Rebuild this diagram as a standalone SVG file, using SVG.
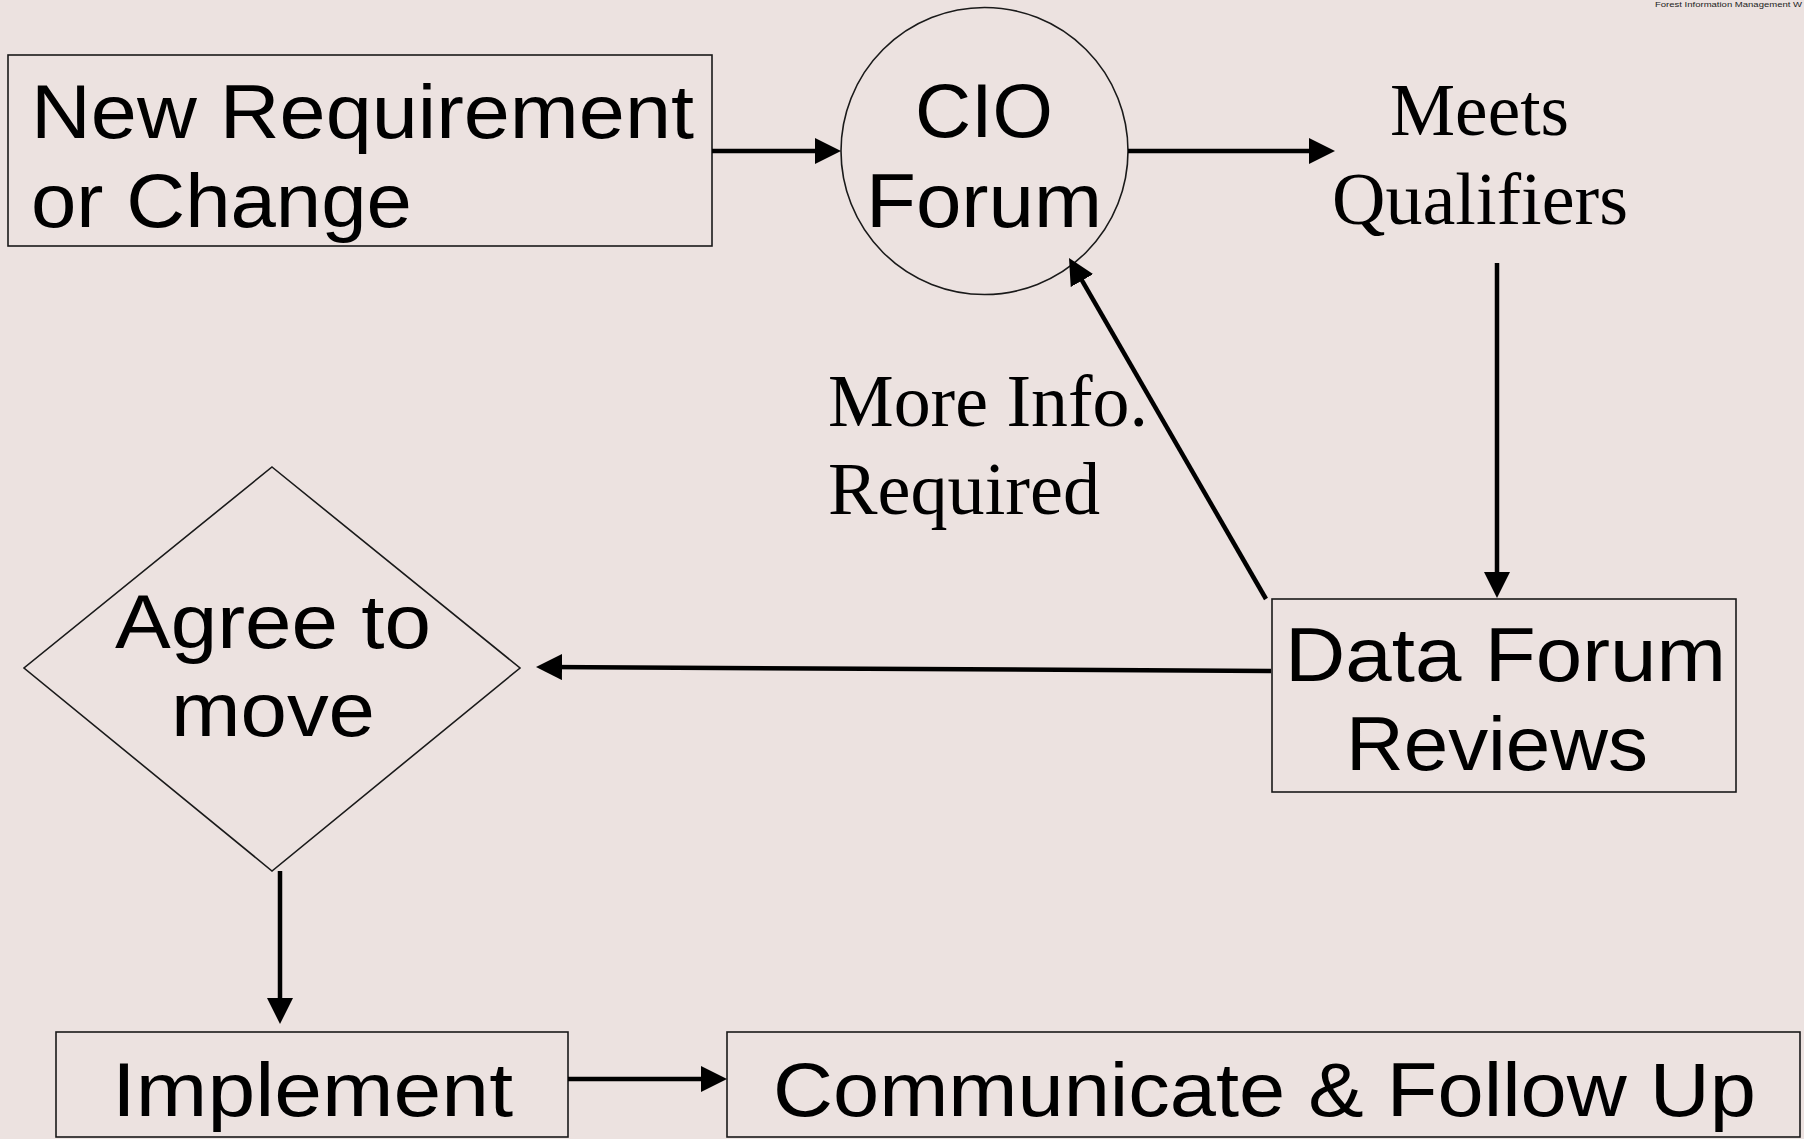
<svg xmlns="http://www.w3.org/2000/svg" width="1804" height="1139" viewBox="0 0 1804 1139">
<style>
.bg{fill:#ECE2E0}
.shape{fill:#ECE2E0;stroke:#1a1a1a;stroke-width:1.6}
.sans{font-family:"Liberation Sans",Arial,sans-serif;font-size:76px;fill:#000}
.serif{font-family:"Liberation Serif","Times New Roman",serif;font-size:74px;fill:#000}
.tiny{font-family:"Liberation Sans",Arial,sans-serif;font-size:8px;fill:#222}
.conn{stroke:#000;stroke-width:4.5;fill:none;marker-end:url(#ah)}
</style>
<defs>
<marker id="ah" markerUnits="userSpaceOnUse" markerWidth="26" markerHeight="26" refX="16" refY="13" orient="auto">
<path d="M0,0 L26,13 L0,26 z" fill="#000"/>
</marker>
</defs>
<rect class="bg" x="0" y="0" width="1804" height="1139"/>
<text class="tiny" x="1655" y="7" textLength="147" lengthAdjust="spacingAndGlyphs">Forest Information Management W</text>

<g id="new-requirement">
<rect class="shape" x="8" y="55" width="704" height="191"/>
<text class="sans" x="31" y="138" textLength="663" lengthAdjust="spacingAndGlyphs">New Requirement</text>
<text class="sans" x="31" y="227" textLength="381" lengthAdjust="spacingAndGlyphs">or Change</text>
</g>

<g id="cio-forum">
<circle class="shape" cx="984.5" cy="151" r="143.5"/>
<text class="sans" x="915" y="137" textLength="138" lengthAdjust="spacingAndGlyphs">CIO</text>
<text class="sans" x="866" y="227" textLength="236" lengthAdjust="spacingAndGlyphs">Forum</text>
</g>

<g id="meets-qualifiers">
<text class="serif" x="1390" y="135" textLength="179" lengthAdjust="spacingAndGlyphs">Meets</text>
<text class="serif" x="1332" y="224" textLength="296" lengthAdjust="spacingAndGlyphs">Qualifiers</text>
</g>

<g id="more-info-label">
<text class="serif" x="828" y="426" textLength="320" lengthAdjust="spacingAndGlyphs">More Info.</text>
<text class="serif" x="828" y="514" textLength="272" lengthAdjust="spacingAndGlyphs">Required</text>
</g>

<g id="data-forum-reviews">
<rect class="shape" x="1272" y="599" width="464" height="193"/>
<text class="sans" x="1285" y="681" textLength="441" lengthAdjust="spacingAndGlyphs">Data Forum</text>
<text class="sans" x="1346" y="770" textLength="302" lengthAdjust="spacingAndGlyphs">Reviews</text>
</g>

<g id="agree-to-move">
<polygon class="shape" points="272,467 520,668 272,871 24,668"/>
<text class="sans" x="115" y="648" textLength="316" lengthAdjust="spacingAndGlyphs">Agree to</text>
<text class="sans" x="171" y="736" textLength="204" lengthAdjust="spacingAndGlyphs">move</text>
</g>

<g id="implement">
<rect class="shape" x="56" y="1032" width="512" height="105"/>
<text class="sans" x="112" y="1116" textLength="401" lengthAdjust="spacingAndGlyphs">Implement</text>
</g>

<g id="communicate">
<rect class="shape" x="727" y="1032" width="1073" height="105"/>
<text class="sans" x="773" y="1116" textLength="983" lengthAdjust="spacingAndGlyphs">Communicate &amp; Follow Up</text>
</g>

<g id="connectors">
<line class="conn" x1="712" y1="151" x2="831" y2="151"/>
<line class="conn" x1="1128" y1="151" x2="1325" y2="151"/>
<line class="conn" x1="1497" y1="263" x2="1497" y2="588"/>
<line class="conn" x1="1266" y1="599" x2="1074" y2="266.7"/>
<line class="conn" x1="1271" y1="671" x2="546" y2="667"/>
<line class="conn" x1="280" y1="871" x2="280" y2="1014"/>
<line class="conn" x1="568" y1="1079" x2="717" y2="1079"/>
</g>
</svg>
